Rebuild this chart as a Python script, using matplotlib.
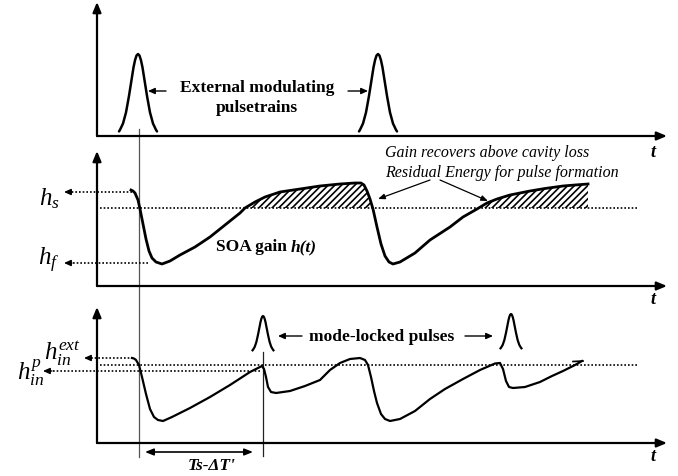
import numpy as np
import matplotlib
matplotlib.use("Agg")
import matplotlib.pyplot as plt

plt.rcParams['mathtext.fontset'] = 'custom'
plt.rcParams['mathtext.it'] = 'Liberation Serif:italic'
plt.rcParams['mathtext.rm'] = 'Liberation Serif'
plt.rcParams['hatch.linewidth'] = 1.2
SERIF = 'Liberation Serif'

# ---------------- data (in figure pixel units) ----------------
# pulse profile (offset from centre, fraction of peak height)
pulse_dx = [-19, -18, -15, -12, -9, -6, -4.5, -3, -1.5, 0, 1.5, 3, 4.5, 6, 9, 12, 15, 18, 19]
pulse_frac = [0.02, 0.04, 0.12, 0.26, 0.47, 0.71, 0.83, 0.92, 0.98, 1.0, 0.98, 0.92, 0.83,
              0.71, 0.47, 0.26, 0.12, 0.04, 0.02]

ext_pulse_x = [138, 378]          # external modulating pulses (top panel)
ml_pulse_x = [263, 511]           # mode-locked pulses (bottom panel)

# SOA gain h(t) (middle panel)
gain_x = [131, 133, 135, 138, 140, 143, 146, 149, 152, 156, 162, 170, 180, 195, 210, 225, 240,
          245, 255, 265, 280, 300, 320, 340, 355, 361, 364, 367, 370, 373, 377, 381, 385, 389,
          393, 400, 415, 430, 450, 463, 477, 487, 497, 510, 530, 545, 563, 575, 588]
gain_y = [191, 192, 194, 201, 210, 225, 240, 252, 259, 263, 265, 262, 256, 248, 238, 226, 214,
          209, 203, 198, 193, 190, 187, 185, 184, 184, 186, 192, 200, 210, 228, 245, 257, 263,
          265, 263, 254, 241, 228, 218, 210, 204, 200, 196, 192, 189.5, 187, 186, 185]
loss_level = 209

# gain seen by the cavity (bottom panel)
cav_x = [132, 134, 136, 139, 142, 146, 150, 154, 158, 163, 172, 190, 210, 230, 250, 258, 262,
         264, 266, 268, 271, 276, 290, 305, 320, 330, 340, 350, 360, 365, 368, 371, 374, 377,
         381, 385, 390, 400, 415, 430, 445, 463, 480, 495, 500, 503, 506, 509, 513, 525, 540,
         552, 563, 575, 582]
cav_y = [359, 359.5, 361, 366, 378, 395, 410, 418, 421, 422, 418, 409, 398, 386, 373, 369, 367,
         370, 378, 388, 393, 394, 392, 387, 381, 371, 364, 360, 359, 361, 366, 378, 392, 404,
         415, 420, 422, 420, 412, 400, 390, 380, 371, 364.5, 364, 370, 382, 388, 389, 388, 383,
         377, 372, 366, 362]
ref_level = 366

# ---------------- figure ----------------
fig = plt.figure(figsize=(6.78, 4.77), dpi=100)
ax = fig.add_axes([0, 0, 1, 1])
ax.set_xlim(0, 678)
ax.set_ylim(477, 0)
ax.axis('off')

def arrow(x0, y0, x1, y1, lw=1.6, hl=0.6, hw=0.25, color='k'):
    ax.annotate('', xy=(x1, y1), xytext=(x0, y0),
                arrowprops=dict(arrowstyle=f'-|>,head_length={hl},head_width={hw}',
                                lw=lw, color=color, shrinkA=0, shrinkB=0))

# axes of the three panels
for (ytop, ybot) in [(3, 137), (152, 287), (308, 444)]:
    arrow(97, ybot, 97, ytop)
    arrow(97, ybot, 667, ybot)
for yt in [153, 300, 457]:
    ax.text(653, yt, 't', family=SERIF, style='italic', weight='bold', fontsize=13,
            ha='center', va='center')

# vertical guide lines
ax.plot([139, 139], [130, 458], color='#555555', lw=0.9)
ax.plot([263, 263], [353, 457], color='#222222', lw=0.9)

# ---------------- top panel ----------------
dx = np.array(pulse_dx, float)
fr = np.array(pulse_frac, float)
for c in ext_pulse_x:
    ax.plot(c + dx, 134 - 79 * fr, color='k', lw=1.8, solid_capstyle='round')
ax.text(257, 88, 'External modulating', family=SERIF, weight='bold', fontsize=12.5,
        ha='center', va='center')
ax.text(257, 108, 'pulsetrains', family=SERIF, weight='bold', fontsize=12.5,
        ha='center', va='center')
arrow(166, 92, 148, 92, lw=1.0, hl=0.4, hw=0.18)
arrow(348, 92, 368, 92, lw=1.0, hl=0.4, hw=0.18)

# ---------------- middle panel ----------------
gx = np.array(gain_x, float)
gy = np.array(gain_y, float)
ax.plot([100, 637], [loss_level, loss_level], color='k', lw=1.2, ls=(0, (1, 1.2)))
ax.fill_between(gx, gy, loss_level, where=(gy <= loss_level) & (gx > 200), interpolate=True,
                facecolor='none', edgecolor='k', hatch='/////', lw=0)
ax.plot(gx, gy, color='k', lw=2.0)

# h_s and h_f dotted arrows
for (x0, y) in [(132, 193), (148, 264)]:
    ax.plot([x0, 70], [y, y], color='k', lw=1.2, ls=(0, (1, 1.2)))
    arrow(72, y, 64, y, lw=1.0, hl=0.4, hw=0.18)
ax.text(49, 205, r'$h_s$', fontsize=18, ha='center', va='baseline')
ax.text(49, 265, r'$h_f$', fontsize=18, ha='center', va='baseline')

ax.text(291, 247, 'SOA gain ', family=SERIF, weight='bold', fontsize=12.5,
        ha='right', va='center')
ax.text(291, 247, 'h(t)', family=SERIF, weight='bold', style='italic', fontsize=12.5,
        ha='left', va='center')
ax.text(385, 153, 'Gain recovers above cavity loss', family=SERIF, style='italic',
        fontsize=11.5, ha='left', va='center')
ax.text(385, 173, 'Residual Energy for pulse formation', family=SERIF, style='italic',
        fontsize=11.5, ha='left', va='center')
arrow(430, 181, 378, 200, lw=0.9, hl=0.4, hw=0.16)
arrow(440, 181, 488, 202, lw=0.9, hl=0.4, hw=0.16)

# ---------------- bottom panel ----------------
cx = np.array(cav_x, float)
cy = np.array(cav_y, float)
ax.plot([100, 637], [ref_level, ref_level], color='k', lw=1.2, ls=(0, (1, 1.2)))
ax.plot(cx, cy, color='k', lw=1.6)
ax.plot([573, 583], [362.5, 362], color='k', lw=1.2)

for c, base in zip(ml_pulse_x, [352, 350]):
    ax.plot(c + dx * 0.55, base - 35 * fr, color='k', lw=1.6)

# dotted h_in arrows
ax.plot([133, 90], [359, 359], color='k', lw=1.2, ls=(0, (1, 1.2)))
arrow(92, 359, 84, 359, lw=1.0, hl=0.4, hw=0.18)
ax.plot([260, 50], [372, 372], color='k', lw=1.2, ls=(0, (1, 1.2)))
arrow(52, 372, 43, 372, lw=1.0, hl=0.4, hw=0.18)
ax.text(62, 360, r'$h_{in}^{ext}$', fontsize=18, ha='center', va='baseline')
ax.text(31, 380, r'$h_{in}^{p}$', fontsize=18, ha='center', va='baseline')

ax.text(382, 337, 'mode-locked pulses', family=SERIF, weight='bold', fontsize=12.5,
        ha='center', va='center')
arrow(302, 337, 278, 337, lw=1.0, hl=0.4, hw=0.18)
arrow(465, 337, 493, 337, lw=1.0, hl=0.4, hw=0.18)

# Ts - dT' span
ax.annotate('', xy=(145, 453), xytext=(253, 453),
            arrowprops=dict(arrowstyle='<|-|>,head_length=0.5,head_width=0.2', lw=1.2,
                            color='k', shrinkA=0, shrinkB=0))
ax.text(212, 466, "Ts-\u0394T'", family=SERIF, weight='bold', style='italic', fontsize=12.5,
        ha='center', va='center')

fig.savefig('out.png', dpi=100)
